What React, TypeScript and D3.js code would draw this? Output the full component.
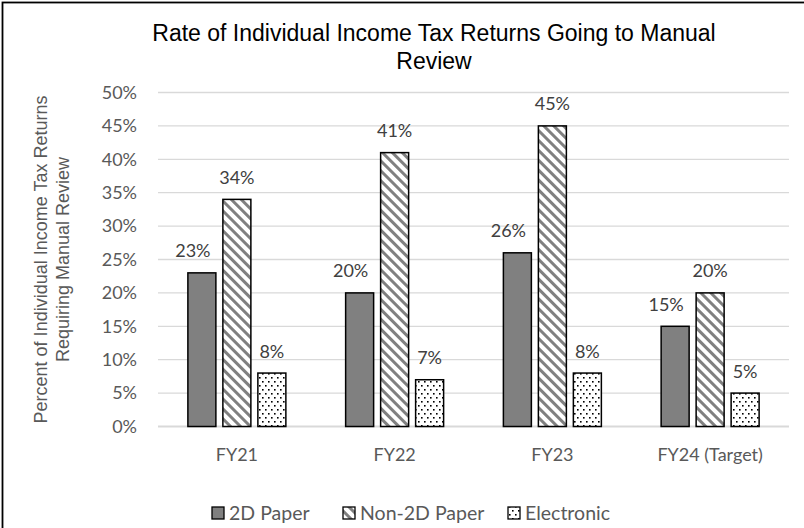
import React from "react";
import * as d3 from "d3";

const categories = ["FY21", "FY22", "FY23", "FY24 (Target)"];
const seriesNames = ["2D Paper", "Non-2D Paper", "Electronic"];
const paper2D = [0.23, 0.2, 0.26, 0.15];
const paperNon2D = [0.34, 0.41, 0.45, 0.2];
const electronic = [0.08, 0.07, 0.08, 0.05];
const yTicks = [0, 0.05, 0.1, 0.15, 0.2, 0.25, 0.3, 0.35, 0.4, 0.45, 0.5];
const titleLines = ["Rate of Individual Income Tax Returns Going to Manual", "Review"];
const yTitleLines = ["Percent of Individual Income Tax Returns", "Requiring Manual Review"];

const W = 804;
const H = 528;
const plot = { left: 158, right: 789, top: 92.5, bottom: 426.5 };
const tickFont = "Lato, 'Open Sans', sans-serif";
const arialFont = "'Liberation Sans', Arial, sans-serif";

const fills = ["#808080", "url(#hatch)", "url(#dots)"];
const labelDx = [-9, 0, 0];
const legendX = [212, 343, 508];

export default function App() {
  const seriesValues = [paper2D, paperNon2D, electronic];
  const x = d3.scaleBand<string>().domain(categories).range([plot.left, plot.right]).paddingInner(0).paddingOuter(0);
  const sub = d3
    .scaleBand<string>()
    .domain(seriesNames)
    .range([0, x.bandwidth()])
    .paddingInner(0.2)
    .paddingOuter(0.854);
  const y = d3.scaleLinear().domain([0, 0.5]).range([plot.bottom, plot.top]);
  const fmt = d3.format(".0%");

  return (
    <svg
      width={W}
      height={H}
      style={{ position: "absolute", left: 0, top: 0, background: "#fff" }}
    >
      <defs>
        <pattern id="hatch" patternUnits="userSpaceOnUse" width={7} height={7} patternTransform="rotate(-45)">
          <rect x={0} y={0} width={7} height={7} fill="#fff" />
          <rect x={0} y={0} width={3} height={7} fill="#808080" />
        </pattern>
        <pattern id="dots" patternUnits="userSpaceOnUse" width={6} height={8}>
          <rect x={0} y={0} width={6} height={8} fill="#fff" />
          <rect x={1} y={1} width={1.6} height={1.6} fill="#000" />
          <rect x={4} y={5} width={1.6} height={1.6} fill="#000" />
        </pattern>
      </defs>
      <rect x={0} y={0} width={W} height={H} fill="#fff" />
      <rect x={2.5} y={2.5} width={W + 60} height={H + 40} fill="none" stroke="#000" strokeWidth={1.8} />

      {/* title */}
      {titleLines.map((t, i) => (
        <text
          key={t}
          x={434}
          y={41 + i * 28}
          textAnchor="middle"
          fontFamily={arialFont}
          fontSize={23}
          fill="#000"
        >
          {t}
        </text>
      ))}

      {/* gridlines */}
      {yTicks.map((t) => (
        <line
          key={t}
          x1={plot.left}
          x2={plot.right}
          y1={y(t)}
          y2={y(t)}
          stroke="#d9d9d9"
          strokeWidth={t === 0 ? 1.8 : 1.3}
        />
      ))}

      {/* y tick labels */}
      {yTicks.map((t) => (
        <text
          key={"l" + t}
          x={137}
          y={y(t)}
          dy="0.35em"
          textAnchor="end"
          fontFamily={tickFont}
          fontSize={18}
          fill="#595959"
        >
          {fmt(t)}
        </text>
      ))}

      {/* y axis title */}
      <g transform={`translate(0, ${(plot.top + plot.bottom) / 2})`}>
        {yTitleLines.map((t, i) => (
          <text
            key={t}
            transform={`translate(${47 + i * 21.5}, 0) rotate(-90)`}
            textAnchor="middle"
            fontFamily={arialFont}
            fontSize={18}
            fill="#595959"
          >
            {t}
          </text>
        ))}
      </g>

      {/* bars */}
      {seriesValues.map((vals, si) =>
        vals.map((v, ci) => {
          const bx = (x(categories[ci]) as number) + (sub(seriesNames[si]) as number);
          const bw = sub.bandwidth();
          return (
            <g key={si + "-" + ci}>
              <rect
                x={bx}
                y={y(v)}
                width={bw}
                height={y(0) - y(v)}
                fill={fills[si]}
                stroke="#000"
                strokeWidth={1.5}
              />
              <text
                x={bx + bw / 2 + labelDx[si]}
                y={y(v) - 15.5}
                textAnchor="middle"
                fontFamily={tickFont}
                fontSize={18}
                fill="#404040"
              >
                {fmt(v)}
              </text>
            </g>
          );
        })
      )}

      {/* category labels */}
      {categories.map((c) => (
        <text
          key={c}
          x={(x(c) as number) + x.bandwidth() / 2}
          y={461}
          textAnchor="middle"
          fontFamily={tickFont}
          fontSize={18}
          fill="#595959"
        >
          {c}
        </text>
      ))}

      {/* legend */}
      {seriesNames.map((s, i) => (
        <g key={s} transform={`translate(${legendX[i]}, 513)`}>
          <rect x={0} y={-6} width={12} height={12} fill={fills[i]} stroke="#000" strokeWidth={1.3} />
          <text x={17} y={0} dy="0.35em" fontFamily={tickFont} fontSize={19.5} fill="#595959">
            {s}
          </text>
        </g>
      ))}
    </svg>
  );
}
